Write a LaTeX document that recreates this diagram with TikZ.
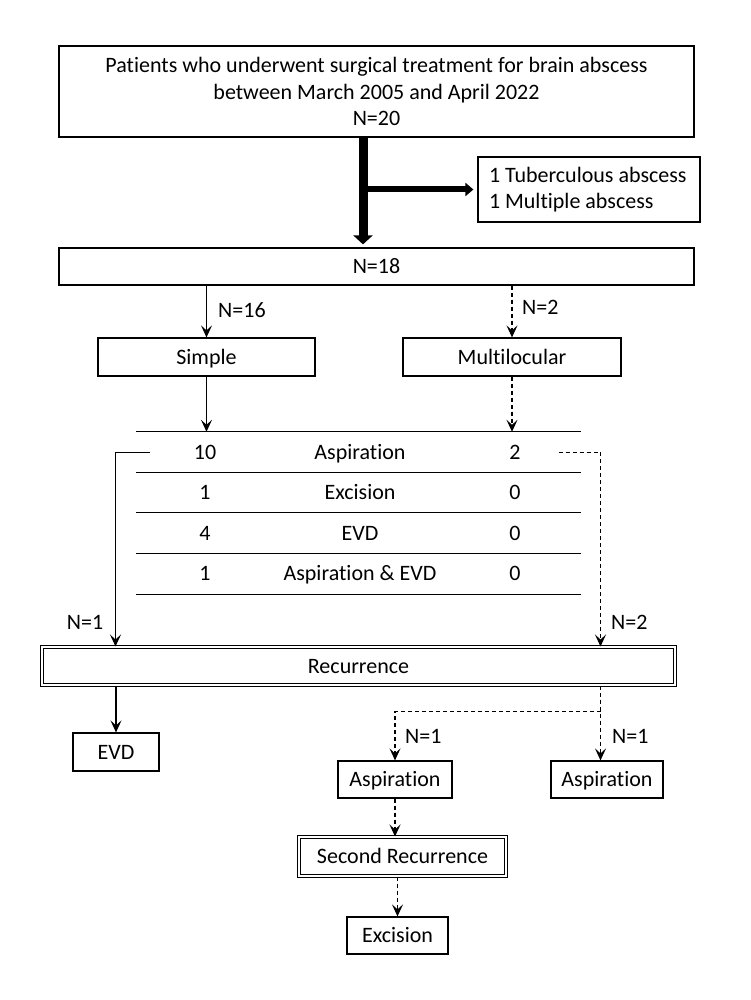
\documentclass[tikz,border=0pt]{standalone}
\usepackage{fontspec}
\setmainfont{Carlito}[Ligatures=NoCommon]
\usetikzlibrary{matrix,arrows.meta}

\begin{document}
\begin{tikzpicture}[x=1pt, y=-1pt,
	every node/.style={font=\fontsize{22}{26.5}\selectfont},
	box/.style={draw, line width=1.2pt, inner sep=0pt, align=center},
	sbox/.style={box, text height=14.2pt, text depth=0pt},
	dbox/.style={sbox, line width=1pt, double, double distance=1.4pt},
	lab/.style={anchor=west, inner sep=0pt},
	arr/.style={line width=1.2pt, -{Stealth[length=12pt, width=11pt, inset=5pt]}},
	darr/.style={arr, dash pattern=on 4pt off 3pt},
	fat/.style={line width=9pt, -{Triangle[length=9pt, width=19pt]}, shorten >=3pt},
	fatside/.style={line width=6pt, -{Triangle[length=8pt, width=13pt]}, shorten >=4pt}]
	\useasboundingbox (0,0) rectangle (750,1000);
	\node[box, minimum width=635pt, minimum height=91pt] (patients) at (376.5,91.5) {Patients who underwent surgical treatment for brain abscess\\between March 2005 and April 2022\\N=20};
	\node[box, minimum width=222pt, minimum height=65pt, align=flush left, text width=200pt, inner xsep=11pt] (excluded) at (589,189.5) {1 Tuberculous abscess\\1 Multiple abscess};
	\node[sbox, minimum width=635pt, minimum height=37pt] (total) at (376.5,266.5) {N=18};
	\coordinate (trunk) at ([xshift=-13.5pt]patients.south);
	\draw[fat] (trunk) -- (trunk |- total.north);
	\draw[fatside] (trunk |- excluded.west) -- (excluded.west);
	\node[sbox, minimum width=217pt, minimum height=38pt] (simple) at (206.5,357) {Simple};
	\node[sbox, minimum width=218pt, minimum height=38pt] (multi) at (512,357) {Multilocular};
	\draw[arr] (total.south -| simple) -- (simple);
	\draw[darr] (total.south -| multi) -- (multi);
	\node[lab] (n16) at (218,310) {N=16};
	\node[lab] (n2top) at (522,307) {N=2};
	\matrix (tab) [matrix of nodes, nodes={minimum width=155pt, minimum height=40.5pt, inner sep=0pt, text height=14.2pt, text depth=0pt, anchor=center}, column sep=0pt, row sep=0pt, inner sep=0pt] at (360,513) {
		10 & Aspiration & 2 \\
		1 & Excision & 0 \\
		4 & EVD & 0 \\
		1 & Aspiration \& EVD & 0 \\
	};
	\foreach \r in {1,...,4}
		\draw[line width=1.2pt] ([xshift=8.5pt]tab-\r-1.north west) -- ([xshift=-11.5pt]tab-\r-3.north east);
	\draw[line width=1.2pt] ([xshift=8.5pt]tab-4-1.south west) -- ([xshift=-11.5pt]tab-4-3.south east);
	\draw[arr] (simple) -- (simple |- tab-1-1.north);
	\draw[darr] (multi) -- (multi |- tab-1-3.north);
	\node[dbox, minimum width=633pt, minimum height=38pt] (recur) at (358.5,666) {Recurrence};
	\draw[arr] ([xshift=23pt]tab-1-1.west) -| ([xshift=74pt]recur.north west);
	\draw[darr] ([xshift=-34pt]tab-1-3.east) -| ([xshift=-75pt]recur.north east);
	\node (n1left) at (85,622) {N=1};
	\node[lab] (n2right) at (611,622) {N=2};
	\node[sbox, minimum width=86pt, minimum height=38pt] (evd) at (116,752) {EVD};
	\draw[arr] (recur.south -| evd) -- (evd);
	\node[sbox, minimum width=114pt, minimum height=37pt] (asp1) at (395,779.5) {Aspiration};
	\node[sbox, minimum width=112pt, minimum height=37pt] (asp2) at (607,779.5) {Aspiration};
	\coordinate (split) at ([xshift=-75pt, yshift=-26pt]recur.south east);
	\draw[darr] ([xshift=-75pt]recur.south east) -- (split |- asp2.north);
	\draw[darr] (split) -| (asp1.north);
	\node[lab] (n1a) at (405,736) {N=1};
	\node[lab] (n1b) at (612,736) {N=1};
	\node[dbox, minimum width=207pt, minimum height=39pt] (rec2) at (402.5,856.5) {Second Recurrence};
	\draw[darr] (asp1) -- (asp1 |- rec2.north);
	\node[sbox, minimum width=101pt, minimum height=37pt] (excis) at (397.5,935.5) {Excision};
	\draw[darr] (rec2.south -| excis) -- (excis);
\end{tikzpicture}
\end{document}
